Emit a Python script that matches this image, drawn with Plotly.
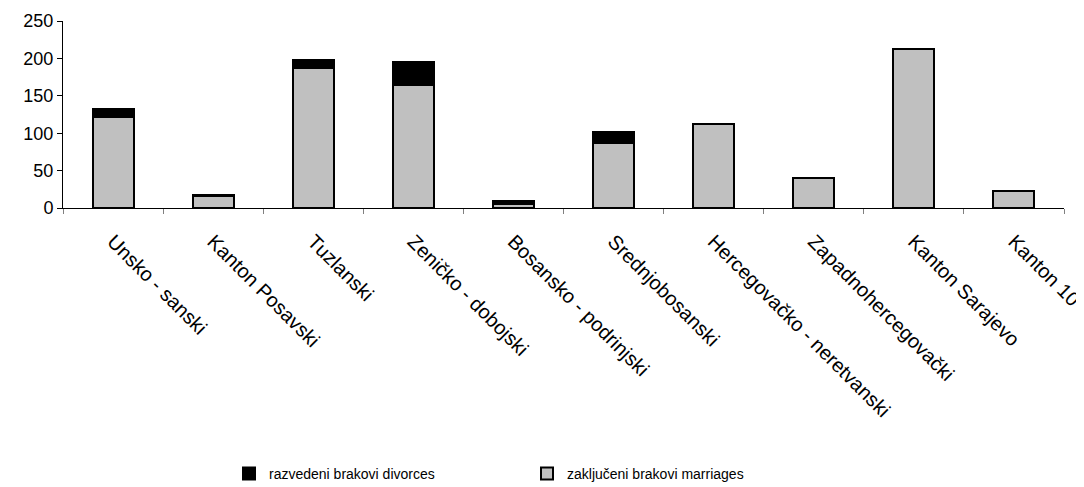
import plotly.graph_objects as go

cantons = ['Unsko - sanski', 'Kanton Posavski', 'Tuzlanski', 'Zeničko - dobojski',
           'Bosansko - podrinjski', 'Srednjobosanski', 'Hercegovačko - neretvanski',
           'Zapadnohercegovački', 'Kanton Sarajevo', 'Kanton 10']
marriages = [122, 16, 187, 164, 6, 87, 112, 40, 212, 23]
divorces = [11, 2, 11, 31, 3, 15, 0, 0, 0, 0]

font = 'Liberation Sans, Arial, sans-serif'

fig = go.Figure()
fig.add_trace(go.Bar(x=cantons, y=marriages, name='zaključeni brakovi marriages',
                     marker=dict(color='#c0c0c0', line=dict(color='black', width=2))))
fig.add_trace(go.Bar(x=cantons, y=divorces, name='razvedeni brakovi divorces',
                     marker=dict(color='black', line=dict(color='black', width=2))))

# page body has an 8px margin, so the figure starts at (8, 8)
fig.update_layout(
    barmode='stack',
    bargap=0.59,
    width=1076, height=479,
    margin=dict(l=55, r=20, t=13, b=279),
    plot_bgcolor='white', paper_bgcolor='white',
    font=dict(family=font, size=19, color='black'),
    showlegend=True,
    legend=dict(orientation='h', traceorder='reversed', x=(229 - 63) / 1001, xanchor='left',
                yref='container', y=1 - 466 / 479, yanchor='middle', font=dict(size=14),
                itemwidth=30, entrywidth=253),
)
fig.update_xaxes(tickangle=45, showline=True, linecolor='black', linewidth=1,
                 ticks='outside', tickson='boundaries', ticklen=5, tickcolor='gray',
                 tickfont=dict(size=20), automargin=False, ticklabelstandoff=13)
fig.update_yaxes(range=[0, 250], dtick=50, showgrid=False, showline=True,
                 linecolor='black', linewidth=1, ticks='outside', ticklen=5,
                 tickcolor='black', tickfont=dict(size=18), zeroline=False,
                 automargin=False)

fig.write_html("out.html")
